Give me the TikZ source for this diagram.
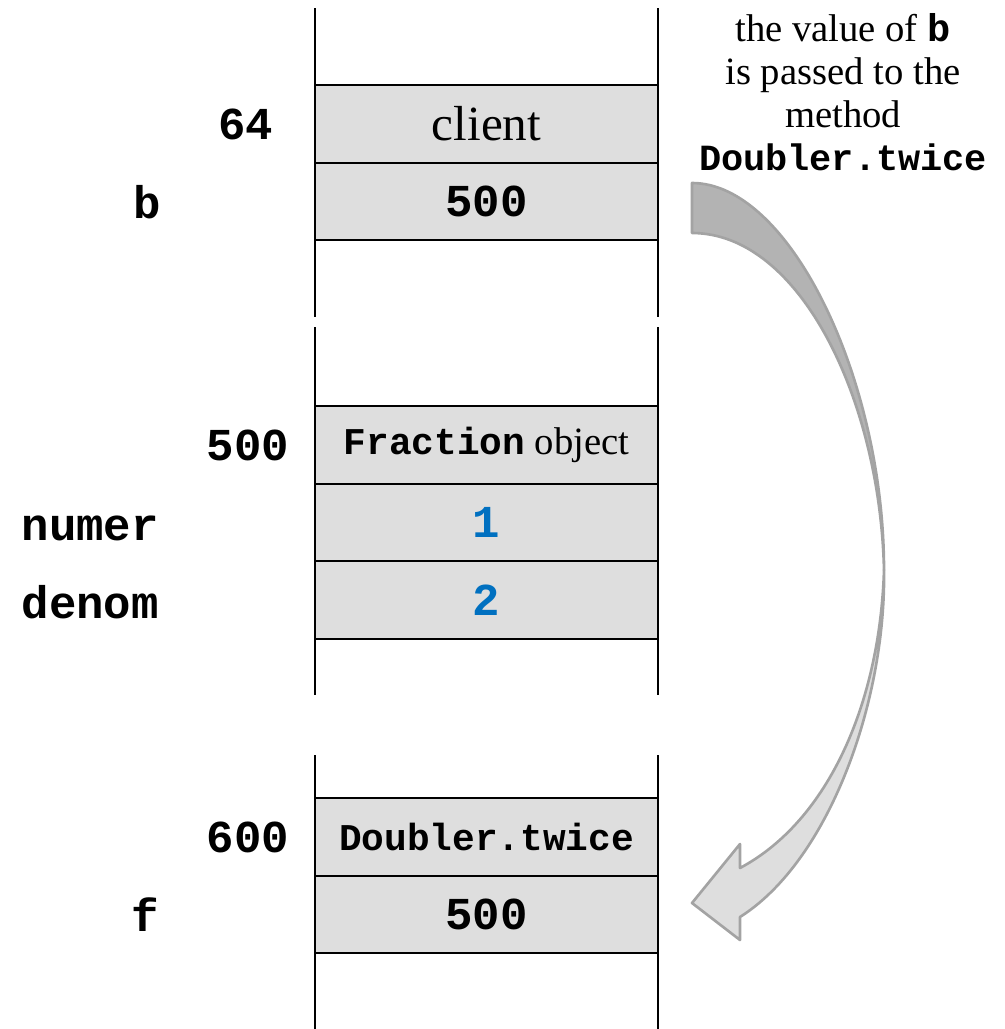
\documentclass[tikz,border=0pt]{standalone}
\usepackage{fontspec}
\setmainfont{Liberation Serif}
\setmonofont{Liberation Mono}
\usetikzlibrary{positioning}
\definecolor{MemCell}{HTML}{DEDEDE}
\definecolor{MemBlue}{HTML}{0070C0}
\definecolor{RibDark}{HTML}{B3B3B3}
\definecolor{RibLight}{HTML}{DEDEDE}
\definecolor{RibEdge}{HTML}{A3A3A3}

\begin{document}
\begin{tikzpicture}[
            cell/.style={draw=black,fill=MemCell,line width=1.2pt,outer sep=0pt,
              minimum width=6.86cm,minimum height=1.55cm,inner sep=0pt},
            addr/.style={font=\fontsize{26}{28}\selectfont\ttfamily\bfseries},
            var/.style={addr,anchor=east},
            val/.style={font=\fontsize{26}{28}\selectfont\ttfamily\bfseries},
            wall/.style={line width=1.2pt},
            rib/.style={draw=RibEdge,line width=1.5pt,line join=round}
          ]
          \useasboundingbox (0,0) rectangle (20.08,-20.58);
          % stack walls
          \foreach \ya/\yb in {-0.16/-6.34,-6.54/-13.90,-15.10/-20.58} {
            \draw[wall] (6.30,\ya) -- (6.30,\yb);
            \draw[wall] (13.16,\ya) -- (13.16,\yb);
          }
          % frame of client
          \node[cell] (client) at (9.73,-2.48) {\fontsize{28}{30}\selectfont client};
          \node[cell,val,below=0pt of client] (bval) {500};
          \node[addr] (a64) at (4.92,-2.48) {64};
          \node[var] (vb) at (3.34,-4.05) {b};
          % the object
          \node[cell] (frac) at (9.73,-8.90)
            {\fontsize{21.5}{24}\selectfont\texttt{\textbf{Fraction}} \fontsize{22}{24}\selectfont object};
          \node[cell,val,text=MemBlue,below=0pt of frac] (numer) {1};
          \node[cell,val,text=MemBlue,below=0pt of numer] (denom) {2};
          \node[addr] (a500) at (4.96,-8.90) {500};
          \node[var] (vnumer) at (3.30,-10.56) {numer};
          \node[var] (vdenom) at (3.30,-12.04) {denom};
          % frame of Doubler.twice
          \node[cell] (twice) at (9.73,-16.74)
            {\fontsize{21.5}{24}\selectfont\ttfamily\bfseries Doubler.twice};
          \node[cell,val,below=0pt of twice] (fval) {500};
          \node[addr] (a600) at (4.96,-16.74) {600};
          \node[var] (vf) at (3.30,-18.29) {f};
          % note and twisted arrow
          \node[anchor=north,align=center,inner sep=0pt,font=\fontsize{22}{24.4}\selectfont] (note) at (16.86,-0.26)
            {the value of \texttt{\textbf{b}}\\ is passed to the\\ method\\
             \fontsize{21}{24.4}\selectfont\texttt{\textbf{Doubler.twice}}};
          \fill[rib,fill=RibLight] (17.68,-11.40) .. controls (17.72,-14.00) and (16.60,-17.20) .. (14.80,-18.34)
            -- (14.80,-18.80) -- (13.84,-18.06) -- (14.80,-16.88) -- (14.80,-17.36)
            .. controls (16.60,-16.40) and (17.60,-14.00) .. (17.68,-11.40) -- cycle;
          \fill[rib,fill=RibDark] (13.84,-3.66) .. controls (15.80,-3.66) and (17.68,-7.60) .. (17.68,-11.40)
            .. controls (17.60,-8.00) and (16.00,-4.66) .. (13.84,-4.66) -- cycle;
        \end{tikzpicture}
\end{document}
